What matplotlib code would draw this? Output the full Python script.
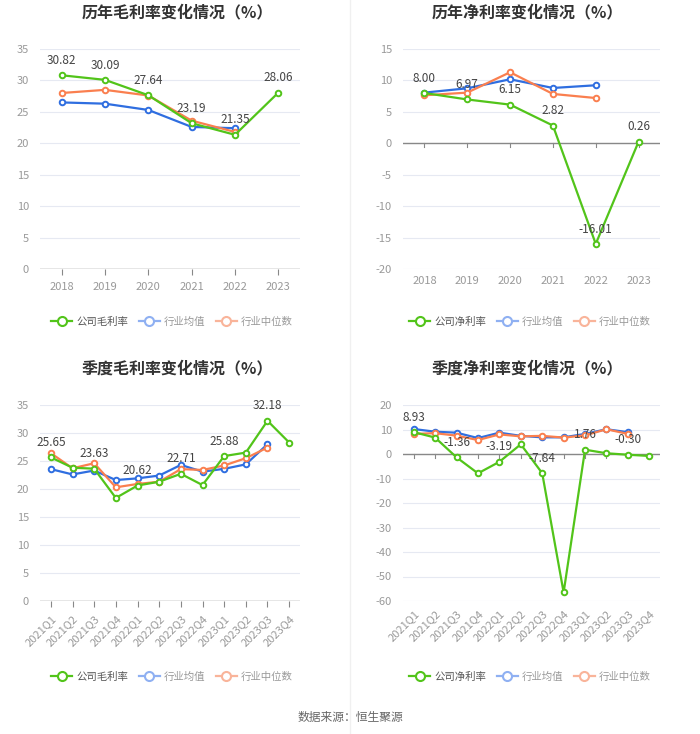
import matplotlib
matplotlib.use("Agg")
import matplotlib.pyplot as plt
from matplotlib.lines import Line2D

plt.rcParams['font.family'] = ['Noto Sans CJK SC', 'DejaVu Sans']
plt.rcParams['axes.unicode_minus'] = False

years = ['2018', '2019', '2020', '2021', '2022', '2023']
quarters = ['2021Q1', '2021Q2', '2021Q3', '2021Q4', '2022Q1', '2022Q2',
            '2022Q3', '2022Q4', '2023Q1', '2023Q2', '2023Q3', '2023Q4']

# annual gross margin
year_gross_co = [30.82, 30.09, 27.64, 23.19, 21.35, 28.06]
year_gross_avg = [26.5, 26.3, 25.3, 22.6, 22.4]
year_gross_med = [28.0, 28.5, 27.6, 23.6, 21.8]

# annual net margin
year_net_co = [8.00, 6.97, 6.15, 2.82, -16.01, 0.26]
year_net_avg = [8.06, 8.75, 10.18, 8.8, 9.23]
year_net_med = [7.64, 8.06, 11.3, 7.85, 7.2]

# quarterly gross margin
q_gross_co = [25.65, 23.8, 23.63, 18.4, 20.62, 21.3, 22.71, 20.7, 25.88, 26.5, 32.18, 28.3]
q_gross_avg = [23.55, 22.6, 23.3, 21.6, 21.9, 22.4, 24.3, 23.1, 23.6, 24.4, 28.0]
q_gross_med = [26.4, 23.7, 24.6, 20.3, 20.9, 21.3, 23.55, 23.4, 24.2, 25.5, 27.4]

# quarterly net margin
q_net_co = [8.93, 6.7, -1.36, -7.9, -3.19, 3.96, -7.84, -56.5, 1.76, 0.3, -0.30, -0.8]
q_net_avg = [10.2, 9.1, 8.7, 6.5, 8.7, 7.4, 6.8, 6.8, 8.2, 10.1, 8.9]
q_net_med = [8.2, 8.5, 7.5, 5.7, 8.0, 7.2, 7.4, 6.7, 7.6, 10.1, 8.2]

GREEN = '#52c41a'
BLUE = '#2f6ee0'
ORANGE = '#fa7f4f'
W, H = 700, 734

fig = plt.figure(figsize=(7, 7.34), dpi=100)


def rect(l, t, r, b):
    return [l / W, 1 - b / H, (r - l) / W, (b - t) / H]


def panel(box, cats, co, avg, med, ylim, step, label_idx, rotate):
    ax = fig.add_axes(rect(*box))
    x = range(len(cats))
    for vals, c, z in [(avg, BLUE, 2), (med, ORANGE, 3), (co, GREEN, 4)]:
        ax.plot(range(len(vals)), vals, color=c, lw=1.6, marker='o', ms=4,
                mfc='white', mec=c, mew=1.4, zorder=z)
    for i in label_idx:
        ax.annotate(f'{co[i]:.2f}', (i, co[i]), xytext=(0, 6), textcoords='offset points',
                    ha='center', va='bottom', fontsize=8.5, color='#444444', zorder=5)
    ax.set_xlim(-0.5, len(cats) - 0.5)
    ax.set_ylim(*ylim)
    ax.set_yticks(range(ylim[0], ylim[1] + 1, step))
    ax.grid(axis='y', color='#e6e9f2', lw=0.8)
    ax.set_axisbelow(True)
    for s in ['left', 'right', 'top', 'bottom']:
        ax.spines[s].set_visible(False)
    ax.axhline(0, color='#888888', lw=1, zorder=1)
    ax.set_xticks(list(x))
    if rotate:
        ax.set_xticklabels(cats, rotation=45, ha='right', rotation_mode='anchor')
    else:
        ax.set_xticklabels(cats)
    ax.tick_params(axis='y', length=0, labelsize=8, colors='#999999', pad=8)
    ax.tick_params(axis='x', length=4, color='#888888', labelsize=8, labelcolor='#999999', pad=5)
    if ylim[0] < 0:
        # ticks hang from the zero line
        ax.tick_params(axis='x', length=0)
        for i in x:
            ax.plot([i, i], [0, -(ylim[1] - ylim[0]) * 0.018], color='#888888', lw=0.8, zorder=1)
    return ax


panel((40, 49, 300, 269), years, year_gross_co, year_gross_avg, year_gross_med,
      (0, 35), 5, range(6), False)
panel((403, 49, 660, 269), years, year_net_co, year_net_avg, year_net_med,
      (-20, 15), 5, range(6), False)
panel((40, 405, 300, 601), quarters, q_gross_co, q_gross_avg, q_gross_med,
      (0, 35), 5, [0, 2, 4, 6, 8, 10], True)
panel((403, 405, 660, 601), quarters, q_net_co, q_net_avg, q_net_med,
      (-60, 20), 10, [0, 2, 4, 6, 8, 10], True)

titles = [('历年毛利率变化情况（%）', 177, 12), ('历年净利率变化情况（%）', 527, 12),
          ('季度毛利率变化情况（%）', 177, 368), ('季度净利率变化情况（%）', 527, 368)]
for t, x, y in titles:
    fig.text(x / W, 1 - y / H, t, ha='center', va='center', fontsize=11.5,
             fontweight='bold', color='#333333')

handles = [Line2D([], [], color=GREEN, lw=1.6, marker='o', ms=6.5, mfc='white', mec=GREEN, mew=1.5),
           Line2D([], [], color='#8fb0f2', lw=1.6, marker='o', ms=6.5, mfc='white', mec='#8fb0f2', mew=1.5),
           Line2D([], [], color='#f9b49a', lw=1.6, marker='o', ms=6.5, mfc='white', mec='#f9b49a', mew=1.5)]
legends = [('公司毛利率', 172, 322), ('公司净利率', 530, 322),
           ('公司毛利率', 172, 677), ('公司净利率', 530, 677)]
for name, x, y in legends:
    leg = fig.legend(handles, [name, '行业均值', '行业中位数'], loc='center',
                     bbox_to_anchor=(x / W, 1 - y / H), ncol=3, frameon=False,
                     fontsize=7.5, handlelength=2.0, columnspacing=1.0, handletextpad=0.4)
    for i, txt in enumerate(leg.get_texts()):
        txt.set_color('#555555' if i == 0 else '#999999')

fig.add_artist(Line2D([350 / W, 350 / W], [0, 1], color='#f0f0f0', lw=1))

fig.text(0.5, 1 - 717 / H, '数据来源：恒生聚源', ha='center', va='center',
         fontsize=8.5, color='#666666')

fig.savefig('out.png', dpi=100, facecolor='white')
